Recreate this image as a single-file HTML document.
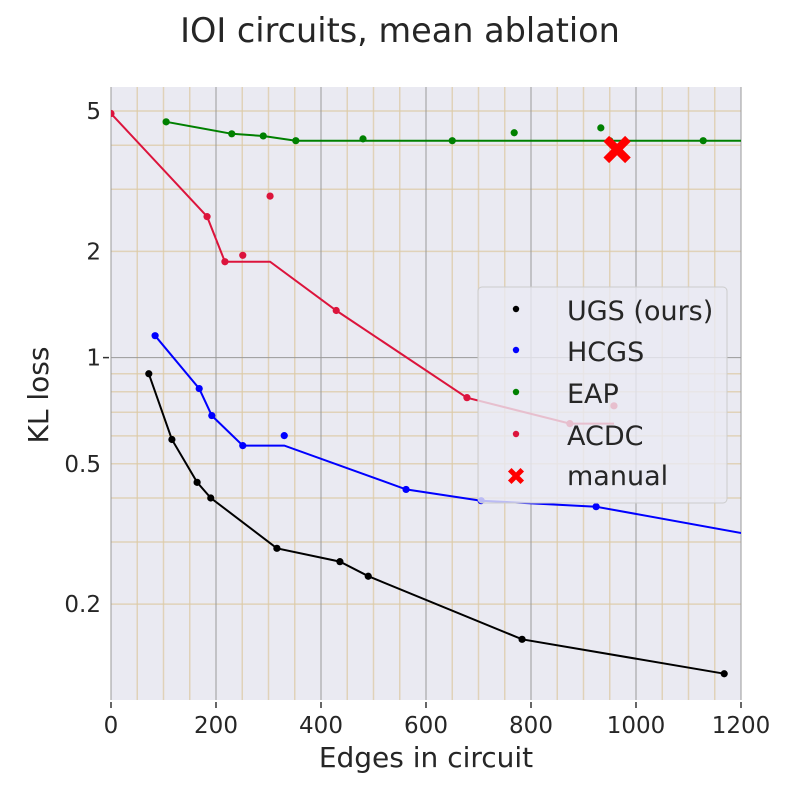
<!DOCTYPE html>
<html><head><meta charset="utf-8"><style>
html,body{margin:0;padding:0;background:#fff;}
svg text{font-family:"DejaVu Sans","Liberation Sans",sans-serif;fill:#262626;}
</style></head><body>
<svg id="chart" width="800" height="800" xmlns="http://www.w3.org/2000/svg">
<text x="400" y="42" text-anchor="middle" font-size="33.5">IOI circuits, mean ablation</text>
<text x="426" y="767" text-anchor="middle" font-size="28">Edges in circuit</text>
<text x="48" y="395" text-anchor="middle" font-size="28" transform="rotate(-90 48 395)">KL loss</text>
<defs><clipPath id="pc"><rect x="111" y="87" width="630" height="613"/></clipPath></defs>
<rect x="111" y="87" width="630" height="613" fill="#eaeaf2"/>
<g id="grid"></g>
<g id="ticks"></g>
<g id="series" clip-path="url(#pc)"></g>
<g id="legend"></g>
</svg>
<script>
const ugsX = [72,116,164,190,316,436,490,783,1168];
const ugsY = [0.90,0.586,0.443,0.40,0.288,0.264,0.24,0.159,0.127];
const hcgsX = [84,168,192,251,330,562,705,924,1350];
const hcgsY = [1.154,0.817,0.685,0.563,0.601,0.423,0.393,0.378,0.29];
const eapX = [105,230,290,352,480,650,768,933,950,1128,1500];
const eapY = [4.66,4.31,4.25,4.12,4.17,4.12,4.34,4.48,4.12,4.12,4.12];
const acdcX = [0,183,217,251,303,429,678,874,958];
const acdcY = [4.92,2.51,1.87,1.95,2.87,1.36,0.77,0.65,0.73];
const manualX = [964];
const manualY = [3.89];
const xTicks = [0,200,400,600,800,1000,1200];
const yTickLabels = ["0.2","0.5","1","2","5"];
const yTickVals = [0.2,0.5,1,2,5];

const NS="http://www.w3.org/2000/svg";
const X0=111,X1=741,XMAX=1200;
const YT=87,YB=700,LMAX=Math.log10(5.85),LMIN=Math.log10(0.107);
const sx=v=>X0+(v/XMAX)*(X1-X0);
const sy=v=>YT+(LMAX-Math.log10(v))/(LMAX-LMIN)*(YB-YT);
function mk(tag,attrs,parent){const e=document.createElementNS(NS,tag);for(const k in attrs)e.setAttribute(k,attrs[k]);parent.appendChild(e);return e;}
const grid=document.getElementById('grid'),ticks=document.getElementById('ticks'),series=document.getElementById('series'),legend=document.getElementById('legend');
for(let v=50;v<1200;v+=50){if(v%200===0)continue;const l=mk('line',{x1:sx(v),x2:sx(v),y1:YT,y2:YB,stroke:'#dccaa6','stroke-width':1.5,'stroke-opacity':0.75},grid);

}
[0.2,0.3,0.4,0.5,0.6,0.7,0.8,0.9,2,3,4,5].forEach(v=>{const l=mk('line',{x1:X0,x2:X1,y1:sy(v),y2:sy(v),stroke:'#dccaa6','stroke-width':1.5,'stroke-opacity':0.75},grid);

});
xTicks.forEach(v=>{const l=mk('line',{x1:sx(v),x2:sx(v),y1:YT,y2:YB,stroke:'#999999','stroke-width':1},grid);


const t=mk('line',{x1:sx(v),x2:sx(v),y1:702,y2:708,stroke:'#333','stroke-width':1.5},ticks);


const tx=mk('text',{x:sx(v),y:733,'text-anchor':'middle','font-size':23},ticks);tx.textContent=v;

});
{const l=mk('line',{x1:X0,x2:X1,y1:sy(1),y2:sy(1),stroke:'#999999','stroke-width':1},grid);


const t=mk('line',{x1:103,x2:109,y1:sy(1),y2:sy(1),stroke:'#333','stroke-width':1.5},ticks);

}
yTickVals.forEach((v,i)=>{const tx=mk('text',{x:101,y:sy(v)+8,'text-anchor':'end','font-size':23},ticks);tx.textContent=yTickLabels[i];

});
function drawSeries(name,xs,ys,color){
  const idx=xs.map((_,i)=>i).sort((a,b)=>xs[a]-xs[b]);let m=Infinity;const pts=[];
  idx.forEach(i=>{m=Math.min(m,ys[i]);pts.push(sx(xs[i]).toFixed(1)+','+sy(m).toFixed(1));});
  const pl=mk('polyline',{points:pts.join(' '),fill:'none',stroke:color,'stroke-width':2},series);
  
  
  xs.forEach((x,i)=>{const c=mk('circle',{cx:sx(x),cy:sy(ys[i]),r:3.6,fill:color},series);
  
  });
}
drawSeries('eap',eapX,eapY,'#008000');
drawSeries('acdc',acdcX,acdcY,'#dc143c');
drawSeries('hcgs',hcgsX,hcgsY,'#0000ff');
drawSeries('ugs',ugsX,ugsY,'#000000');
function xMark(cx,cy,s,w,parent){return mk('path',{d:`M${cx-s},${cy-s}L${cx+s},${cy+s}M${cx-s},${cy+s}L${cx+s},${cy-s}`,stroke:'#ff0000','stroke-width':w,'stroke-linecap':'square'},parent);}
manualX.forEach((x,i)=>{const p=xMark(sx(x),sy(manualY[i]),8,8,series);

});
const box=mk('rect',{x:478,y:287,width:249,height:216,rx:4,fill:'#eaeaf2','fill-opacity':0.8,stroke:'#cccccc','stroke-width':1},legend);


const entries=[['UGS (ours)','#000000',312],['HCGS','#0000ff',353],['EAP','#008000',395],['ACDC','#dc143c',437],['manual','#ff0000',477]];
entries.forEach((e,i)=>{
  let m;
  if(i===4){m=xMark(516,e[2]-1,4.5,5,legend);}else{m=mk('circle',{cx:516,cy:e[2]-3,r:3.2,fill:e[1]},legend);}
  
  
  const t=mk('text',{x:567,y:e[2]+8,'font-size':27},legend);t.textContent=e[0];
  
  
});
</script>
</body></html>
